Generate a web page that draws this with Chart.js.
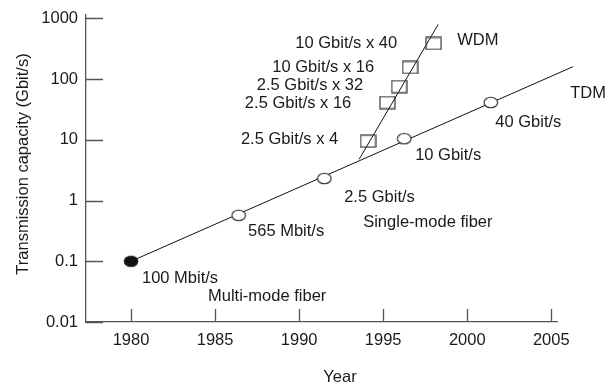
<!DOCTYPE html>
<html>
<head>
<meta charset="utf-8">
<script src="https://cdn.jsdelivr.net/npm/chart.js@4.4.1/dist/chart.umd.min.js"></script>
<style>
  html, body { margin: 0; padding: 0; background: #fff; }
  #wrap { width: 616px; height: 385px; position: relative; }
</style>
</head>
<body>
<div id="wrap"><canvas id="capacityChart"></canvas></div>
<script>
// Transmission capacity growth: TDM vs WDM

// TDM single-channel systems (circles)
const tdmYears = [1980, 1986.4, 1991.5, 1996.25, 2001.4];
const tdmRates = [0.1, 0.57, 2.3, 10.4, 41];

// WDM systems (squares)
const wdmYears = [1994.1, 1995.25, 1995.95, 1996.6, 1998];
const wdmRates = [9.5, 41, 75, 155, 385];

// trend lines drawn through each group
const tdmTrendYears = [1980, 2006.3];
const tdmTrendRates = [0.1, 160];
const wdmTrendYears = [1993.57, 1998.27];
const wdmTrendRates = [4.77, 791];

// axis ticks
const yearTicks = [1980, 1985, 1990, 1995, 2000, 2005];
const rateTicks = [0.01, 0.1, 1, 10, 100, 1000];

// text annotations: [text, year, rate, align]
const notes = [
  ['10 Gbit/s x 40', 1995.83, 385, 'right'],
  ['10 Gbit/s x 16', 1994.46, 155, 'right'],
  ['2.5 Gbit/s x 32', 1993.81, 78.5, 'right'],
  ['2.5 Gbit/s x 16', 1993.1, 39.7, 'right'],
  ['2.5 Gbit/s x 4', 1992.32, 10.2, 'right'],
  ['WDM', 1999.4, 431, 'left'],
  ['TDM', 2006.13, 58, 'left'],
  ['40 Gbit/s', 2001.67, 19.3, 'left'],
  ['10 Gbit/s', 1996.9, 5.53, 'left'],
  ['2.5 Gbit/s', 1992.68, 1.13, 'left'],
  ['Single-mode fiber', 1993.81, 0.438, 'left'],
  ['565 Mbit/s', 1986.96, 0.311, 'left'],
  ['100 Mbit/s', 1980.65, 0.0526, 'left'],
  ['Multi-mode fiber', 1984.58, 0.0265, 'left']
];

const FONT = '16.5px "Liberation Sans", Arial, sans-serif';
const TEXT_COLOR = '#1a1a1a';
const AXIS_COLOR = '#555';

function toPoints(xs, ys) {
  return xs.map((x, i) => ({ x: x, y: ys[i] }));
}

// marker images
function ellipseMarker(filled) {
  const c = document.createElement('canvas');
  c.width = 16; c.height = 13;
  const ctx = c.getContext('2d');
  ctx.beginPath();
  ctx.ellipse(8, 6.5, 6.8, 5.3, 0, 0, Math.PI * 2);
  ctx.fillStyle = filled ? '#111' : '#fff';
  ctx.fill();
  ctx.lineWidth = 1.1;
  ctx.strokeStyle = '#222';
  ctx.stroke();
  return c;
}

function squareMarker() {
  const c = document.createElement('canvas');
  c.width = 17; c.height = 14;
  const ctx = c.getContext('2d');
  ctx.lineWidth = 1.2;
  ctx.strokeStyle = '#333';
  ctx.strokeRect(1, 1, 15, 12);
  return c;
}

const openDot = ellipseMarker(false);
const filledDot = ellipseMarker(true);
const boxMark = squareMarker();

// inward tick marks, axis titles and text notes
const decorPlugin = {
  id: 'decor',
  afterDraw(chart) {
    const { ctx, chartArea, scales } = chart;
    const x = scales.x, y = scales.y;
    ctx.save();
    ctx.strokeStyle = AXIS_COLOR;
    ctx.lineWidth = 1.3;
    ctx.beginPath();
    rateTicks.forEach(v => {
      const py = Math.round(y.getPixelForValue(v)) + 0.5;
      ctx.moveTo(chartArea.left, py);
      ctx.lineTo(chartArea.left + 17, py);
    });
    yearTicks.forEach(v => {
      const px = Math.round(x.getPixelForValue(v)) + 0.5;
      ctx.moveTo(px, chartArea.bottom);
      ctx.lineTo(px, chartArea.bottom - 13);
    });
    ctx.stroke();

    ctx.fillStyle = TEXT_COLOR;
    ctx.font = FONT;
    ctx.textBaseline = 'middle';
    notes.forEach(([text, yr, rate, align]) => {
      ctx.textAlign = align;
      ctx.fillText(text, x.getPixelForValue(yr), y.getPixelForValue(rate));
    });

    // axis titles
    ctx.textAlign = 'center';
    ctx.fillText('Year', 340, 377);
    ctx.translate(23, 164);
    ctx.rotate(-Math.PI / 2);
    ctx.fillText('Transmission capacity (Gbit/s)', 0, 0);
    ctx.restore();
  }
};

function killPadding(scale) {
  scale.paddingTop = 0;
  scale.paddingBottom = 0;
  scale.paddingLeft = 0;
  scale.paddingRight = 0;
}

const ctx = document.getElementById('capacityChart').getContext('2d');
new Chart(ctx, {
  type: 'line',
  data: {
    datasets: [
      {
        label: 'TDM',
        data: toPoints(tdmYears, tdmRates),
        showLine: false,
        pointStyle: tdmYears.map((_, i) => i === 0 ? filledDot : openDot),
        order: 0
      },
      {
        label: 'WDM',
        data: toPoints(wdmYears, wdmRates),
        showLine: false,
        pointStyle: boxMark,
        order: 0
      },
      {
        label: 'TDM trend',
        data: toPoints(tdmTrendYears, tdmTrendRates),
        borderColor: '#111',
        borderWidth: 1,
        pointRadius: 0,
        clip: false,
        order: 1
      },
      {
        label: 'WDM trend',
        data: toPoints(wdmTrendYears, wdmTrendRates),
        borderColor: '#111',
        borderWidth: 1,
        pointRadius: 0,
        clip: false,
        order: 1
      }
    ]
  },
  options: {
    responsive: true,
    maintainAspectRatio: false,
    animation: false,
    events: [],
    layout: { padding: { top: 15, right: 59, left: 0, bottom: 0 } },
    plugins: {
      legend: { display: false },
      tooltip: { enabled: false }
    },
    scales: {
      x: {
        type: 'linear',
        min: 1977.32,
        max: 2005.34,
        grid: { display: false, drawTicks: false },
        border: { display: true, color: AXIS_COLOR, width: 1.3 },
        afterBuildTicks: scale => { scale.ticks = yearTicks.map(v => ({ value: v })); },
        afterFit: scale => { scale.height = 63; killPadding(scale); },
        ticks: {
          padding: 9,
          color: TEXT_COLOR,
          font: { family: '"Liberation Sans", Arial, sans-serif', size: 16.5 },
          maxRotation: 0,
          callback: v => String(v)
        }
      },
      y: {
        type: 'logarithmic',
        min: 0.01,
        max: 1133,
        grid: { display: false, drawTicks: false },
        border: { display: true, color: AXIS_COLOR, width: 1.3 },
        afterBuildTicks: scale => { scale.ticks = rateTicks.map(v => ({ value: v })); },
        afterFit: scale => { scale.width = 86; killPadding(scale); },
        ticks: {
          padding: 8,
          color: TEXT_COLOR,
          font: { family: '"Liberation Sans", Arial, sans-serif', size: 16.5 },
          callback: v => String(v)
        }
      }
    }
  },
  plugins: [decorPlugin]
});
</script>
</body>
</html>
